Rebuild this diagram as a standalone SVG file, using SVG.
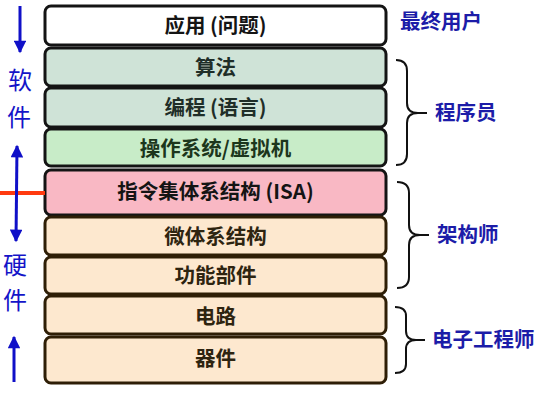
<svg xmlns="http://www.w3.org/2000/svg" width="557" height="403" viewBox="0 0 557 403">
  <defs>
    <marker id="head" viewBox="0 0 10 10" refX="9" refY="5" markerWidth="4.6" markerHeight="4.2" orient="auto-start-reverse" markerUnits="strokeWidth">
      <path d="M0,0 L10,5 L0,10 Z" fill="#1010c8"/>
    </marker>
  </defs>
  <style>
    .layer { stroke-width: 3; }
    .soft { stroke: #141414; }
    .hard { stroke: #2e1e06; }
    .lbl { font-family: "Noto Sans CJK SC", "Liberation Sans", sans-serif; font-size: 20.5px; font-weight: bold; text-anchor: middle; }
    .role { font-family: "Noto Sans CJK SC", "Liberation Sans", sans-serif; font-size: 20.5px; font-weight: bold; fill: #1c1ca8; }
    .side { font-family: "Noto Sans CJK SC", sans-serif; font-size: 24px; fill: #1414c8; text-anchor: middle; }
    .brace { fill: none; stroke: #111; stroke-width: 2; }
    .arrow { stroke: #1010c8; stroke-width: 3; fill: none; }
  </style>
  <rect width="557" height="403" fill="#ffffff"/>

  <!-- layer stack -->
  <g id="app">
    <rect class="layer soft" x="45" y="6" width="341" height="39" rx="6" fill="#ffffff"/>
    <text class="lbl" x="215.5" y="33" fill="#141414">应用 (问题)</text>
  </g>
  <g id="algorithm">
    <rect class="layer soft" x="45" y="48" width="341" height="38" rx="6" fill="#cfe3d7"/>
    <text class="lbl" x="215.5" y="75" fill="#1f2e28">算法</text>
  </g>
  <g id="programming">
    <rect class="layer soft" x="45" y="88" width="341" height="39" rx="6" fill="#cfe3d7"/>
    <text class="lbl" x="215.5" y="115" fill="#1f2e28">编程 (语言)</text>
  </g>
  <g id="os">
    <rect class="layer soft" x="45" y="129" width="341" height="37" rx="6" fill="#c8ecc8"/>
    <text class="lbl" x="215.5" y="156" fill="#1c361c">操作系统/虚拟机</text>
  </g>
  <g id="isa">
    <rect class="layer soft" x="45" y="170" width="341" height="45" rx="6" fill="#f9b8c4"/>
    <text class="lbl" x="215.5" y="199" fill="#141414">指令集体系结构 (ISA)</text>
  </g>
  <g id="microarch">
    <rect class="layer hard" x="45" y="217" width="341" height="38" rx="6" fill="#fde8cf"/>
    <text class="lbl" x="215.5" y="244" fill="#2e2410">微体系结构</text>
  </g>
  <g id="units">
    <rect class="layer hard" x="45" y="257" width="341" height="37" rx="6" fill="#fde8cf"/>
    <text class="lbl" x="215.5" y="283" fill="#2e2410">功能部件</text>
  </g>
  <g id="circuits">
    <rect class="layer hard" x="45" y="296" width="341" height="38" rx="6" fill="#fde8cf"/>
    <text class="lbl" x="215.5" y="324" fill="#2e2410">电路</text>
  </g>
  <g id="devices">
    <rect class="layer hard" x="45" y="337" width="341" height="46" rx="6" fill="#fde8cf"/>
    <text class="lbl" x="215.5" y="366" fill="#2e2410">器件</text>
  </g>

  <!-- roles on the right -->
  <g id="end-user">
    <text class="role" x="400" y="29">最终用户</text>
  </g>
  <g id="programmer">
    <text class="role" x="435" y="120">程序员</text>
  </g>
  <g id="architect">
    <text class="role" x="437" y="242">架构师</text>
  </g>
  <g id="ee">
    <text class="role" x="432" y="347">电子工程师</text>
  </g>

  <!-- side labels -->
  <g id="software">
    <text class="side" x="20" y="89">软</text>
    <text class="side" x="19" y="126">件</text>
  </g>
  <g id="hardware">
    <text class="side" x="15" y="274">硬</text>
    <text class="side" x="15" y="309">件</text>
  </g>

  <g id="connectors">
    <!-- braces -->
    <path class="brace" d="M396,60 Q407,60 407,71 L407,103 Q407,113 418,113 L427,113 M418,113 Q407,113 407,123 L407,154 Q407,165 396,165"/>
    <path class="brace" d="M397,182 Q409,182 409,193 L409,225 Q409,235 420,235 L429,235 M420,235 Q409,235 409,245 L409,277 Q409,288 397,288"/>
    <path class="brace" d="M395,307 Q406,307 406,316 L406,331 Q406,340 416,340 L425,340 M416,340 Q406,340 406,349 L406,364 Q406,373 395,373"/>
    <!-- software / hardware boundary -->
    <line x1="0" y1="193" x2="45" y2="193" stroke="#ff3a10" stroke-width="4"/>
    <!-- direction arrows -->
    <line class="arrow" x1="20" y1="6" x2="20" y2="52" marker-end="url(#head)"/>
    <line class="arrow" x1="17" y1="146" x2="16" y2="241" marker-start="url(#head)" marker-end="url(#head)"/>
    <line class="arrow" x1="14" y1="382" x2="14" y2="337" marker-end="url(#head)"/>
  </g>
</svg>
